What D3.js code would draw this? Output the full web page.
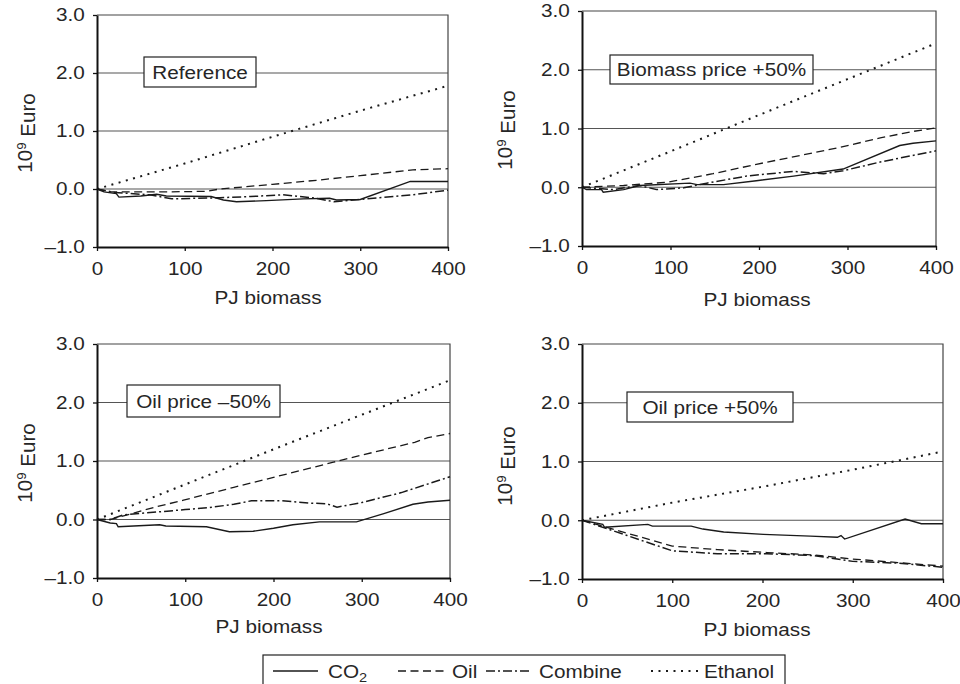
<!DOCTYPE html>
<html>
<head>
<meta charset="utf-8">
<script src="https://cdn.jsdelivr.net/npm/d3@7"></script>
<style>
  body { margin: 0; background: #fff; }
  svg { display: block; }
  text { font-family: "Liberation Sans", Arial, sans-serif; fill: #262626; }
</style>
</head>
<body>
<svg id="chart" width="960" height="684"></svg>
<script>
// ---- data (PJ biomass, 10^9 Euro) ----
var biomassTicks = [0, 100, 200, 300, 400];
var euroTicks = [-1, 0, 1, 2, 3];
var gridValues = [0, 1, 2];
var seriesNames = ["CO2", "Oil", "Combine", "Ethanol"];
var panelTitles = ["Reference", "Biomass price +50%", "Oil price \u201350%", "Oil price +50%"];

// Reference
var refCO2 = [[0,0],[8,-0.05],[22,-0.08],[25,-0.14],[50,-0.12],[68,-0.09],[79,-0.12],[130,-0.13],[144,-0.19],[159,-0.22],[193,-0.2],[235,-0.17],[265,-0.16],[273,-0.19],[300,-0.18],[357,0.13],[400,0.13]];
var refOil = [[0,0],[15,-0.05],[80,-0.05],[125,-0.04],[140,0],[200,0.08],[250,0.15],[300,0.23],[360,0.33],[400,0.35]];
var refCombine = [[0,0],[20,-0.06],[60,-0.1],[85,-0.17],[140,-0.15],[175,-0.13],[212,-0.1],[250,-0.16],[270,-0.22],[300,-0.18],[360,-0.1],[400,-0.02]];
var refEthanol = [[0,0],[100,0.44],[200,0.9],[300,1.35],[400,1.78]];

// Biomass price +50%
var bioCO2 = [[0,0],[5,-0.04],[22,-0.04],[24,-0.085],[47,-0.04],[65,0.03],[122,0.07],[130,0.045],[160,0.045],[197,0.11],[239,0.19],[295,0.31],[359,0.71],[374,0.75],[400,0.79]];
var bioOil = [[0,0],[47,0.03],[96,0.085],[148,0.23],[197,0.39],[246,0.54],[292,0.68],[337,0.84],[374,0.95],[400,1.01]];
var bioCombine = [[0,0],[35,-0.04],[65,0.03],[84,-0.04],[115,-0.01],[141,0.07],[186,0.19],[239,0.27],[273,0.23],[295,0.28],[337,0.43],[400,0.62]];
var bioEthanol = [[0,0],[100,0.61],[200,1.23],[300,1.84],[400,2.45]];

// Oil price -50%
var lowCO2 = [[0,0],[15,-0.06],[22,-0.07],[24,-0.125],[71,-0.09],[78,-0.11],[124,-0.125],[150,-0.21],[177,-0.2],[200,-0.15],[222,-0.09],[252,-0.04],[294,-0.04],[325,0.1],[358,0.26],[375,0.3],[400,0.33]];
var lowOil = [[0,0],[15,0],[68,0.22],[98,0.33],[155,0.55],[200,0.72],[268,0.98],[300,1.1],[360,1.32],[375,1.4],[400,1.47]];
var lowCombine = [[0,0],[15,0],[30,0.08],[70,0.13],[100,0.17],[125,0.2],[155,0.26],[175,0.32],[210,0.32],[240,0.28],[260,0.27],[272,0.21],[300,0.29],[345,0.46],[400,0.73]];
var lowEthanol = [[0,0],[100,0.6],[200,1.2],[300,1.79],[400,2.38]];

// Oil price +50%
var highCO2 = [[0,0],[23,-0.07],[25,-0.12],[73,-0.07],[78,-0.1],[121,-0.1],[134,-0.15],[157,-0.2],[201,-0.24],[253,-0.27],[283,-0.29],[287,-0.26],[291,-0.32],[358,0.02],[376,-0.06],[400,-0.06]];
var highOil = [[0,0],[50,-0.22],[100,-0.44],[150,-0.5],[205,-0.55],[256,-0.59],[300,-0.66],[350,-0.72],[400,-0.78]];
var highCombine = [[0,0],[50,-0.26],[100,-0.52],[150,-0.57],[205,-0.57],[256,-0.6],[300,-0.7],[350,-0.73],[400,-0.8]];
var highEthanol = [[0,0],[100,0.3],[200,0.57],[300,0.86],[400,1.17]];

var panelData = [
  [refCO2, refOil, refCombine, refEthanol],
  [bioCO2, bioOil, bioCombine, bioEthanol],
  [lowCO2, lowOil, lowCombine, lowEthanol],
  [highCO2, highOil, highCombine, highEthanol]
];

// ---- layout ----
var svg = d3.select("#chart"),
    fontSize = 18.5,
    stretch = 1.12;   // the figure's lettering is a bit wide

var panels = [
  {l: 97,  r: 448, t: 15,  b: 247, box: [144, 57, 112, 30],  xlab: [268, 304], ylab: [25, 133]},
  {l: 582, r: 936, t: 11,  b: 246, box: [610, 55, 203, 29],  xlab: [757, 306], ylab: [505, 130]},
  {l: 97,  r: 450, t: 344, b: 578, box: [127, 385, 153, 32], xlab: [269, 633], ylab: [25, 463]},
  {l: 582, r: 943, t: 344, b: 579, box: [627, 392, 166, 30], xlab: [757, 636], ylab: [505, 466]}
];

var styles = {
  CO2:     {dash: null,      width: 1.4},
  Oil:     {dash: "8,4.5",   width: 1.3},
  Combine: {dash: "9,3,2,3", width: 1.5},
  Ethanol: {dash: "2,5.5",   width: 2}
};

function fmt(d) {
  return d < 0 ? "\u2013" + Math.abs(d).toFixed(1) : d.toFixed(1);
}

function wideText(sel, x, y, str, anchor) {
  return sel.append("text")
      .attr("transform", "translate(" + x + "," + y + ") scale(" + stretch + ",1)")
      .attr("text-anchor", anchor || "start")
      .style("font-size", fontSize + "px")
      .text(str);
}

panels.forEach(function(p, i) {
  var x = d3.scaleLinear().domain([0, 400]).range([p.l, p.r]),
      y = d3.scaleLinear().domain([-1, 3]).range([p.b, p.t]),
      g = svg.append("g");

  // grid lines
  g.selectAll(".grid").data(gridValues).enter().append("line")
      .attr("x1", p.l).attr("x2", p.r)
      .attr("y1", function(d) { return y(d); })
      .attr("y2", function(d) { return y(d); })
      .attr("stroke", "#555").attr("stroke-width", 1.1);

  // top and right frame
  g.append("path")
      .attr("d", "M" + p.l + "," + p.t + "H" + p.r + "V" + p.b)
      .attr("fill", "none").attr("stroke", "#444").attr("stroke-width", 1.2);

  // series
  var line = d3.line().x(function(d) { return x(d[0]); }).y(function(d) { return y(d[1]); });
  panelData[i].forEach(function(s, k) {
    var st = styles[seriesNames[k]];
    g.append("path")
        .datum(s)
        .attr("d", line)
        .attr("fill", "none")
        .attr("stroke", "#1a1a1a")
        .attr("stroke-width", st.width)
        .attr("stroke-dasharray", st.dash);
  });

  // axes
  var ax = g.append("g")
      .attr("transform", "translate(0," + p.b + ")")
      .call(d3.axisBottom(x).tickValues(biomassTicks).tickSize(4).tickSizeOuter(0).tickPadding(11).tickFormat(d3.format("d")));
  var ay = g.append("g")
      .attr("transform", "translate(" + p.l + ",0)")
      .call(d3.axisLeft(y).tickValues(euroTicks).tickSize(4).tickSizeOuter(0).tickPadding(7).tickFormat(fmt));
  [ax, ay].forEach(function(a) {
    a.select(".domain").attr("stroke", "#111").attr("stroke-width", 2);
    a.selectAll(".tick line").attr("stroke", "#111").attr("stroke-width", 1.3);
    a.selectAll(".tick text")
        .attr("transform", "scale(" + stretch + ",1)")
        .style("font-family", "Liberation Sans, Arial, sans-serif")
        .style("font-size", fontSize + "px")
        .attr("fill", "#262626");
  });

  // axis titles
  wideText(g, p.xlab[0], p.xlab[1], "PJ biomass", "middle");
  var yl = g.append("text")
      .attr("transform", "translate(" + p.ylab[0] + "," + p.ylab[1] + ") rotate(-90)")
      .attr("text-anchor", "middle")
      .attr("dy", "0.35em")
      .style("font-size", "20.5px");
  yl.append("tspan").text("10");
  yl.append("tspan").attr("dy", "-0.45em").style("font-size", "13.5px").text("9");
  yl.append("tspan").attr("dy", "0.45em").text(" Euro");

  // scenario box
  g.append("rect")
      .attr("x", p.box[0]).attr("y", p.box[1])
      .attr("width", p.box[2]).attr("height", p.box[3])
      .attr("fill", "#fff").attr("stroke", "#222").attr("stroke-width", 1.2);
  wideText(g, p.box[0] + p.box[2] / 2, p.box[1] + p.box[3] / 2 + 6.5, panelTitles[i], "middle");
});

// ---- legend ----
var legend = svg.append("g");
legend.append("rect")
    .attr("x", 263).attr("y", 655).attr("width", 522).attr("height", 40)
    .attr("fill", "#fff").attr("stroke", "#222").attr("stroke-width", 1.2);

var legendItems = [
  {line: [273, 318], text: 328},
  {line: [398, 447], text: 452},
  {line: [486, 532], text: 539},
  {line: [651, 699], text: 704}
];

legendItems.forEach(function(it, k) {
  var st = styles[seriesNames[k]];
  legend.append("line")
      .attr("x1", it.line[0]).attr("x2", it.line[1])
      .attr("y1", 671).attr("y2", 671)
      .attr("stroke", "#1a1a1a")
      .attr("stroke-width", st.width)
      .attr("stroke-dasharray", st.dash);
  var t = wideText(legend, it.text, 678, k === 0 ? "" : seriesNames[k]);
  if (k === 0) {
    t.append("tspan").text("CO");
    t.append("tspan").attr("dy", "0.3em").style("font-size", "13px").text("2");
  }
});
</script>
</body>
</html>
